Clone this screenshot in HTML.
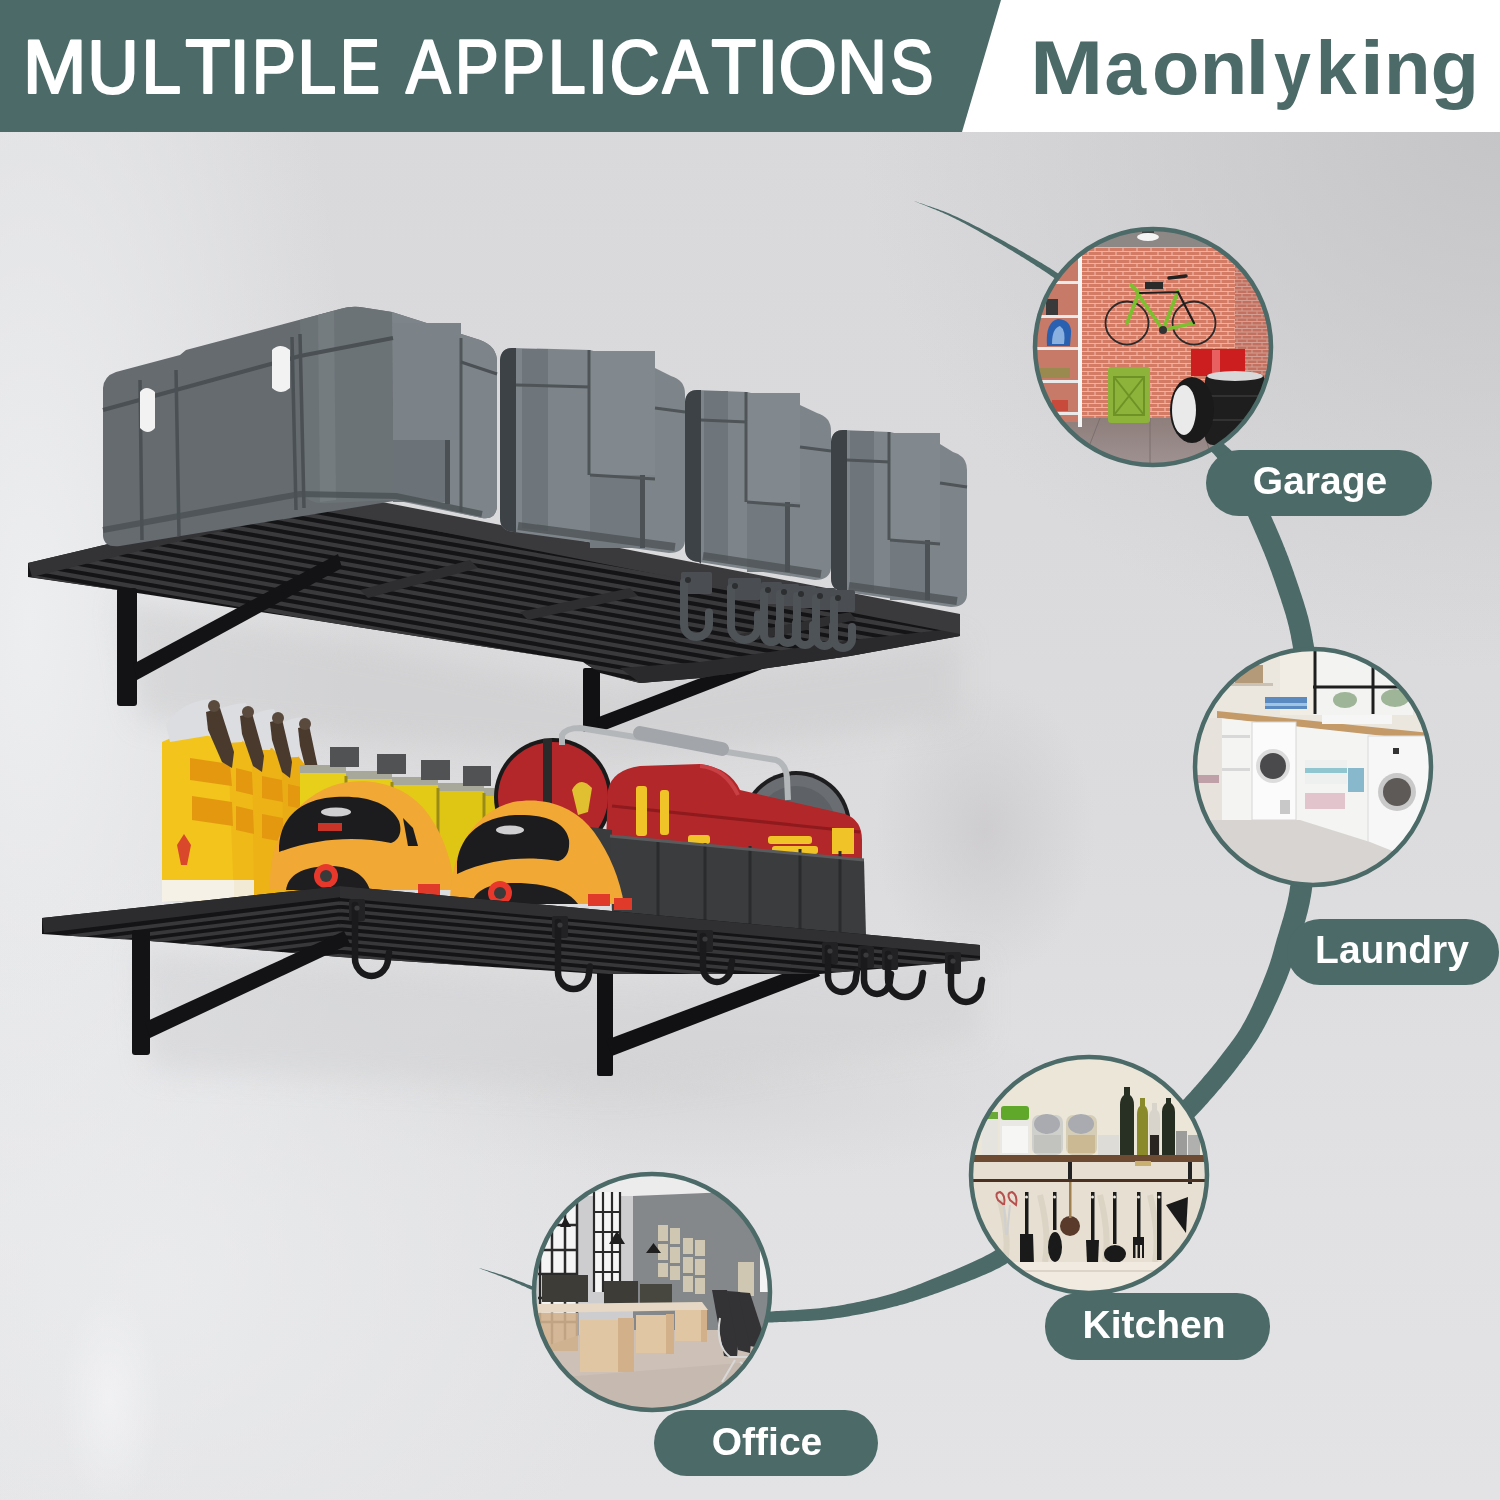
<!DOCTYPE html>
<html><head><meta charset="utf-8">
<style>
html,body{margin:0;padding:0;width:1500px;height:1500px;overflow:hidden;background:#dfe0e2;}
#bg{position:absolute;left:0;top:0;width:1500px;height:1500px;
background:
 radial-gradient(ellipse 50px 110px at 110px 1400px, rgba(243,243,245,0.8), rgba(243,243,245,0) 100%),
 radial-gradient(ellipse 480px 420px at 160px 1280px, rgba(234,235,237,0.9), rgba(234,235,237,0) 100%),
 radial-gradient(ellipse 110px 150px at 985px 830px, rgba(200,198,200,0.7), rgba(200,198,200,0) 100%),
 radial-gradient(ellipse 380px 90px at 700px 1090px, rgba(212,212,214,0.7), rgba(212,212,214,0) 100%),
 radial-gradient(ellipse 330px 1000px at 30px 620px, rgba(237,238,240,1), rgba(237,238,240,0) 100%),
 radial-gradient(ellipse 640px 540px at 1500px 130px, rgba(197,196,198,1), rgba(197,196,198,0) 100%),
 linear-gradient(180deg, #d9d9db 0%, #dadadc 35%, #dcdcde 55%, #e1e1e3 80%, #e3e3e5 100%);}

svg{position:absolute;left:0;top:0;}
text{font-family:"Liberation Sans",sans-serif;}
</style></head>
<body>
<div id="bg"></div>
<svg width="1500" height="1500" viewBox="0 0 1500 1500">
<defs>
 <clipPath id="cG"><circle cx="1153" cy="347" r="119"/></clipPath>
 <clipPath id="cL"><circle cx="1313" cy="767" r="119"/></clipPath>
 <clipPath id="cK"><circle cx="1089" cy="1175" r="119"/></clipPath>
 <clipPath id="cO"><circle cx="652" cy="1292" r="119"/></clipPath>
 <pattern id="brick" width="14" height="8" patternUnits="userSpaceOnUse">
 <rect width="14" height="8" fill="#d47b66"/>
 <path d="M0,3.5 H14 M0,7.5 H14 M3,0 V3.5 M10,4 V7.5" stroke="#eeb2a2" stroke-width="1.2"/>
</pattern>
<pattern id="brick2" width="10" height="7" patternUnits="userSpaceOnUse">
 <rect width="10" height="7" fill="#c2705f"/>
 <path d="M0,3 H10 M0,6.5 H10 M2,0 V3 M7,3.5 V6.5" stroke="#d5a093" stroke-width="1"/>
</pattern>
<linearGradient id="floorG" x1="0" y1="0" x2="0" y2="1">
 <stop offset="0" stop-color="#8e7e7c"/><stop offset="1" stop-color="#a09492"/>
</linearGradient>
<filter id="blur12" x="-20%" y="-50%" width="140%" height="200%"><feGaussianBlur stdDeviation="14"/></filter>
<clipPath id="uShelf"><polygon points="30,577 320,506 960,634 850,656 700,678 640,683 600,673 583,662 280,615 118,590"/></clipPath>
<clipPath id="lShelf"><polygon points="44,933 340,897 980,956 980,960 820,974 600,974 340,957 150,941 42,934"/></clipPath>

</defs>
<rect x="0" y="0" width="1500" height="132" fill="#ffffff"/>
<polygon points="0,0 1001,0 962,132 0,132" fill="#4b6a68"/>
<text transform="translate(28.00,0) scale(1.0197,1)" x="-5.08" y="92.9" font-size="75.29" font-weight="normal" fill="#ffffff" stroke="#ffffff" stroke-width="2.2" stroke-linejoin="round">M</text>
<text transform="translate(91.80,0) scale(0.9476,1)" x="-4.71" y="92.9" font-size="75.29" font-weight="normal" fill="#ffffff" stroke="#ffffff" stroke-width="2.2" stroke-linejoin="round">U</text>
<text transform="translate(146.00,0) scale(0.9549,1)" x="-5.08" y="92.9" font-size="75.29" font-weight="normal" fill="#ffffff" stroke="#ffffff" stroke-width="2.2" stroke-linejoin="round">L</text>
<text transform="translate(185.70,0) scale(0.9828,1)" x="-0.59" y="92.9" font-size="75.29" font-weight="normal" fill="#ffffff" stroke="#ffffff" stroke-width="2.2" stroke-linejoin="round">T</text>
<text transform="translate(235.20,0) scale(0.9760,1)" x="-5.85" y="92.9" font-size="75.29" font-weight="normal" fill="#ffffff" stroke="#ffffff" stroke-width="2.2" stroke-linejoin="round">I</text>
<text transform="translate(256.20,0) scale(0.8800,1)" x="-5.08" y="92.9" font-size="75.29" font-weight="normal" fill="#ffffff" stroke="#ffffff" stroke-width="2.2" stroke-linejoin="round">P</text>
<text transform="translate(302.00,0) scale(0.9323,1)" x="-5.08" y="92.9" font-size="75.29" font-weight="normal" fill="#ffffff" stroke="#ffffff" stroke-width="2.2" stroke-linejoin="round">L</text>
<text transform="translate(344.00,0) scale(0.7952,1)" x="-5.08" y="92.9" font-size="75.29" font-weight="normal" fill="#ffffff" stroke="#ffffff" stroke-width="2.2" stroke-linejoin="round">E</text>
<text transform="translate(405.20,0) scale(0.8883,1)" x="0.95" y="92.9" font-size="75.29" font-weight="normal" fill="#ffffff" stroke="#ffffff" stroke-width="2.2" stroke-linejoin="round">A</text>
<text transform="translate(459.20,0) scale(0.8777,1)" x="-5.08" y="92.9" font-size="75.29" font-weight="normal" fill="#ffffff" stroke="#ffffff" stroke-width="2.2" stroke-linejoin="round">P</text>
<text transform="translate(505.40,0) scale(0.8777,1)" x="-5.08" y="92.9" font-size="75.29" font-weight="normal" fill="#ffffff" stroke="#ffffff" stroke-width="2.2" stroke-linejoin="round">P</text>
<text transform="translate(552.30,0) scale(0.9097,1)" x="-5.08" y="92.9" font-size="75.29" font-weight="normal" fill="#ffffff" stroke="#ffffff" stroke-width="2.2" stroke-linejoin="round">L</text>
<text transform="translate(593.00,0) scale(1.0627,1)" x="-5.85" y="92.9" font-size="75.29" font-weight="normal" fill="#ffffff" stroke="#ffffff" stroke-width="2.2" stroke-linejoin="round">I</text>
<text transform="translate(611.90,0) scale(0.9242,1)" x="-2.72" y="92.9" font-size="75.29" font-weight="normal" fill="#ffffff" stroke="#ffffff" stroke-width="2.2" stroke-linejoin="round">C</text>
<text transform="translate(661.70,0) scale(0.8998,1)" x="0.95" y="92.9" font-size="75.29" font-weight="normal" fill="#ffffff" stroke="#ffffff" stroke-width="2.2" stroke-linejoin="round">A</text>
<text transform="translate(711.80,0) scale(0.9783,1)" x="-0.59" y="92.9" font-size="75.29" font-weight="normal" fill="#ffffff" stroke="#ffffff" stroke-width="2.2" stroke-linejoin="round">T</text>
<text transform="translate(763.00,0) scale(1.0410,1)" x="-5.85" y="92.9" font-size="75.29" font-weight="normal" fill="#ffffff" stroke="#ffffff" stroke-width="2.2" stroke-linejoin="round">I</text>
<text transform="translate(781.00,0) scale(0.9982,1)" x="-2.47" y="92.9" font-size="75.29" font-weight="normal" fill="#ffffff" stroke="#ffffff" stroke-width="2.2" stroke-linejoin="round">O</text>
<text transform="translate(842.00,0) scale(0.9151,1)" x="-5.08" y="92.9" font-size="75.29" font-weight="normal" fill="#ffffff" stroke="#ffffff" stroke-width="2.2" stroke-linejoin="round">N</text>
<text transform="translate(892.00,0) scale(0.8673,1)" x="-2.32" y="92.9" font-size="75.29" font-weight="normal" fill="#ffffff" stroke="#ffffff" stroke-width="2.2" stroke-linejoin="round">S</text>
<text transform="translate(1036.00,0) scale(1.1617,1)" x="-5.06" y="94" font-size="75.71" font-weight="bold" fill="#4b6a68">M</text>
<text transform="translate(1106.70,0) scale(0.9884,1)" x="-2.22" y="94" font-size="75.71" font-weight="bold" fill="#4b6a68">a</text>
<text transform="translate(1155.00,0) scale(1.0265,1)" x="-2.96" y="94" font-size="75.71" font-weight="bold" fill="#4b6a68">o</text>
<text transform="translate(1204.80,0) scale(1.0284,1)" x="-4.99" y="94" font-size="75.71" font-weight="bold" fill="#4b6a68">n</text>
<text transform="translate(1251.40,0) scale(1.1552,1)" x="-5.29" y="94" font-size="75.71" font-weight="bold" fill="#4b6a68">l</text>
<text transform="translate(1274.60,0) scale(0.8757,1)" x="-0.59" y="94" font-size="75.71" font-weight="bold" fill="#4b6a68">y</text>
<text transform="translate(1321.00,0) scale(0.9758,1)" x="-5.29" y="94" font-size="75.71" font-weight="bold" fill="#4b6a68">k</text>
<text transform="translate(1365.80,0) scale(1.1552,1)" x="-5.29" y="94" font-size="75.71" font-weight="bold" fill="#4b6a68">i</text>
<text transform="translate(1389.00,0) scale(1.0065,1)" x="-4.99" y="94" font-size="75.71" font-weight="bold" fill="#4b6a68">n</text>
<text transform="translate(1433.80,0) scale(1.0505,1)" x="-3.11" y="94" font-size="75.71" font-weight="bold" fill="#4b6a68">g</text>

<g id="product">
<!-- wall shadows -->
<g opacity="0.5">
 <path d="M120,600 L600,690 L960,640 L960,720 L620,760 L140,720 Z" fill="#c9c9cb" filter="url(#blur12)"/>
 <path d="M140,950 L620,985 L980,960 L980,1040 L620,1090 L150,1070 Z" fill="#cfcfd1" filter="url(#blur12)"/>
</g>

<!-- UPPER SHELF brackets (behind) -->
<g fill="#111113">
 <rect x="583" y="668" width="17" height="64" rx="2"/>
 <polygon points="596,718 800,640 806,652 600,732"/>
</g>

<!-- UPPER SHELF body -->
<polygon points="28,563 320,494 960,620 960,636 850,656 700,678 640,683 600,673 583,662 280,615 118,590 28,577" fill="#141416"/>
<g clip-path="url(#uShelf)" stroke="#3a3a3c" stroke-width="4.2" fill="none">
 <path d="M0,452.5 L1000,627.5 M0,461.0 L1000,636.0 M0,469.5 L1000,644.5 M0,478.0 L1000,653.0 M0,486.5 L1000,661.5 M0,495.0 L1000,670.0 M0,503.5 L1000,678.5 M0,512.0 L1000,687.0 M0,520.5 L1000,695.5 M0,529.0 L1000,704.0 M0,537.5 L1000,712.5 M0,546.0 L1000,721.0 M0,554.5 L1000,729.5 M0,563.0 L1000,738.0 M0,571.5 L1000,746.5 M0,580.0 L1000,755.0"/>
</g>
<g clip-path="url(#uShelf)" fill="#2e2e30">
 <polygon points="360,590 470,560 478,568 368,598"/>
 <polygon points="520,612 630,588 638,596 528,620"/>
 <polygon points="730,636 850,612 856,620 736,644"/>
</g>
<polygon points="620,668 700,662 852,640 960,628 960,636 850,656 700,678 640,683" fill="#2a2a2c"/>
<!-- front top frame -->
<polygon points="28,563 320,494 324,506 32,577" fill="#333335"/>

<!-- left bracket upper -->
<g fill="#131315">
 <rect x="117" y="588" width="20" height="118" rx="3"/>
 <polygon points="133,664 338,554 342,568 137,680"/>
</g>

<!-- BOXES -->
<!-- shelf top band under boxes -->
<polygon points="320,490 960,614 960,634 320,508" fill="#3a3a3c"/>
<!-- box 1 -->
<path d="M103,388 Q104,376 116,372 L180,355 L186,350 L340,309 Q350,306 360,307 L392,312 L480,340 Q497,346 497,362 L497,506 Q496,520 482,518 L400,500 L120,546 Q104,548 103,536 Z" fill="#656b6f"/>
<path d="M300,320 L340,309 Q350,306 360,307 L392,312 L394,500 L330,503 Q305,505 303,490 Z" fill="#6c7377"/>
<path d="M318,315 L334,311 L336,500 L320,502 Z" fill="#757c80"/>
<path d="M392,312 L480,340 Q497,346 497,362 L497,506 Q496,520 482,518 L394,500 Z" fill="#7e858a"/>
<rect x="393" y="323" width="68" height="117" fill="#7c8388"/>
<rect x="393" y="440" width="56" height="62" fill="#6c7378"/>
<rect x="445" y="440" width="5" height="64" fill="#4a5054"/>
<path d="M461,338 L461,512" stroke="#50565a" stroke-width="3"/>
<path d="M103,410 L300,356 L393,338" stroke="#4a5054" stroke-width="4" fill="none"/>
<path d="M461,362 L497,374" stroke="#4a5054" stroke-width="3"/>
<path d="M140,380 L142,540 M176,370 L179,536 M292,337 L296,510 M300,334 L304,508" stroke="#4a5054" stroke-width="3.5"/>
<path d="M103,530 L300,494 L396,496 L482,514" stroke="#4a5053" stroke-width="6" fill="none" opacity="0.8"/>
<path d="M140,392 Q146,384 155,392 L155,428 Q148,436 140,428 Z" fill="#f2f2f2"/>
<path d="M272,350 Q280,342 290,350 L290,388 Q281,396 272,388 Z" fill="#f2f2f2"/>
<!-- box 2 -->
<path d="M500,360 Q501,348 512,348 L590,350 L655,368 L671,376 Q685,380 685,394 L685,541 Q684,553 669,553 L514,532 Q500,531 500,518 Z" fill="#7e858a"/>
<path d="M500,360 Q501,348 512,348 L516,348 L516,534 L514,532 Q500,531 500,518 Z" fill="#3c4245"/>
<path d="M522,349 L548,349 L548,531 L522,528 Z" fill="#6f767b"/>
<rect x="590" y="351" width="65" height="124" fill="#82898e"/>
<rect x="590" y="475" width="53" height="73" fill="#737a7f"/>
<rect x="640" y="475" width="5" height="73" fill="#4b5155"/>
<path d="M589,350 L589,475" stroke="#4e5458" stroke-width="3"/>
<path d="M590,475 L655,479" stroke="#4e5458" stroke-width="3"/>
<path d="M516,385 L590,387" stroke="#4e5458" stroke-width="3"/>
<path d="M655,408 L685,412" stroke="#4e5458" stroke-width="3"/>
<path d="M518,526 L675,547" stroke="#4a5053" stroke-width="8" opacity="0.75"/>
<!-- box 3 -->
<path d="M685,402 Q686,390 697,390 L747,392 L800,405 L817,413 Q831,417 831,431 L831,568 Q830,580 815,580 L699,562 Q685,561 685,548 Z" fill="#7e858a"/>
<path d="M685,402 Q686,390 697,390 L701,390 L701,564 L699,562 Q685,561 685,548 Z" fill="#3c4245"/>
<path d="M704,391 L728,391 L728,561 L704,558 Z" fill="#6f767b"/>
<rect x="747" y="393" width="53" height="109" fill="#82898e"/>
<rect x="747" y="502" width="41" height="70" fill="#737a7f"/>
<rect x="785" y="502" width="5" height="70" fill="#4b5155"/>
<path d="M746,392 L746,502" stroke="#4e5458" stroke-width="3"/>
<path d="M747,502 L800,506" stroke="#4e5458" stroke-width="3"/>
<path d="M701,420 L747,422" stroke="#4e5458" stroke-width="3"/>
<path d="M800,447 L831,451" stroke="#4e5458" stroke-width="3"/>
<path d="M703,556 L821,574" stroke="#4a5053" stroke-width="8" opacity="0.75"/>
<!-- box 4 -->
<path d="M831,442 Q832,430 843,430 L890,432 L940,444 L953,452 Q967,456 967,470 L967,595 Q966,607 951,607 L845,592 Q831,591 831,578 Z" fill="#7e858a"/>
<path d="M831,442 Q832,430 843,430 L847,430 L847,594 L845,592 Q831,591 831,578 Z" fill="#3c4245"/>
<path d="M850,431 L874,431 L874,591 L850,588 Z" fill="#6f767b"/>
<rect x="890" y="433" width="50" height="107" fill="#82898e"/>
<rect x="890" y="540" width="38" height="60" fill="#737a7f"/>
<rect x="925" y="540" width="5" height="60" fill="#4b5155"/>
<path d="M889,432 L889,540" stroke="#4e5458" stroke-width="3"/>
<path d="M890,540 L940,544" stroke="#4e5458" stroke-width="3"/>
<path d="M847,460 L890,462" stroke="#4e5458" stroke-width="3"/>
<path d="M940,483 L967,487" stroke="#4e5458" stroke-width="3"/>
<path d="M849,586 L957,601" stroke="#4a5053" stroke-width="8" opacity="0.75"/>

<!-- upper hooks -->
<g fill="#4a4e52">
 <rect x="681" y="572" width="31" height="22" rx="2"/>
 <rect x="728" y="578" width="33" height="22" rx="2"/>
 <rect x="761" y="582" width="21" height="22" rx="2"/>
 <rect x="777" y="584" width="22" height="22" rx="2"/>
 <rect x="794" y="586" width="22" height="22" rx="2"/>
 <rect x="813" y="588" width="23" height="22" rx="2"/>
 <rect x="831" y="590" width="24" height="22" rx="2"/>
</g>
<g fill="none" stroke="#4e5357" stroke-width="8" stroke-linecap="round">
 <path d="M684,582 L684,624.5 A12.5,12.5 0 0 0 709,624.5 L709,612.5"/>
 <path d="M731,588 L731,626.5 A13.5,13.5 0 0 0 758,626.5 L758,614.5"/>
 <path d="M764,592 L764,634.5 A7.5,7.5 0 0 0 779,634.5 L779,622.5"/>
 <path d="M780,594 L780,635.0 A8.0,8.0 0 0 0 796,635.0 L796,623.0"/>
 <path d="M797,596 L797,637.0 A8.0,8.0 0 0 0 813,637.0 L813,625.0"/>
 <path d="M816,598 L816,637.5 A8.5,8.5 0 0 0 833,637.5 L833,625.5"/>
 <path d="M834,600 L834,639.0 A9.0,9.0 0 0 0 852,639.0 L852,627.0"/>
</g>
<g fill="#2c2e30">
 <circle cx="688" cy="580" r="3"/>
 <circle cx="735" cy="586" r="3"/>
 <circle cx="768" cy="590" r="3"/>
 <circle cx="784" cy="592" r="3"/>
 <circle cx="801" cy="594" r="3"/>
 <circle cx="820" cy="596" r="3"/>
 <circle cx="838" cy="598" r="3"/>
</g>

<!-- LOWER SHELF brackets -->
<g fill="#111113">
 <rect x="597" y="970" width="16" height="106" rx="2"/>
 <polygon points="606,1040 814,962 820,976 612,1056"/>
</g>

<!-- LOWER SHELF OBJECTS -->
<!-- spray bottles -->
<g>
 <path d="M276,762 Q286,756 298,756 L306,766 L308,896 L276,896 Z" fill="#eaac14"/>
 <path d="M246,754 Q258,748 272,748 L282,758 L284,898 L246,898 Z" fill="#ecb216"/>
 <path d="M212,746 Q225,740 242,740 L252,750 L254,900 L212,900 Z" fill="#efba18"/>
 <path d="M162,742 Q178,734 205,734 L228,745 L234,902 L162,902 Z" fill="#f2c41c"/>
 <g fill="#e39810">
  <path d="M190,758 L230,764 L232,786 L190,780 Z"/><path d="M192,796 L232,802 L233,826 L192,820 Z"/>
  <path d="M236,768 L252,772 L253,795 L236,791 Z"/><path d="M236,806 L253,810 L254,834 L236,830 Z"/>
  <path d="M262,776 L282,780 L283,802 L262,798 Z"/><path d="M262,814 L283,818 L284,842 L262,838 Z"/>
  <path d="M288,784 L306,788 L307,810 L288,806 Z"/><path d="M288,820 L307,824 L308,846 L288,842 Z"/>
 </g>
 <path d="M162,880 L234,880 L234,900 L162,902 Z" fill="#f5f1e6"/>
 <path d="M234,880 L254,880 L254,898 L234,898 Z" fill="#f3ead6"/>
 <path d="M177,845 L184,834 L191,845 L187,865 L181,865 Z" fill="#d9482a"/>
 <g fill="#dcdde0"><path d="M166,725 Q180,702 210,699 L220,712 L212,735 L170,742 Z"/><path d="M212,712 Q228,704 246,703 L252,718 L242,742 L214,744 Z"/><path d="M244,720 Q258,710 274,709 L280,724 L270,750 L248,750 Z"/><path d="M274,728 Q288,718 302,717 L307,732 L298,757 L278,758 Z"/></g>
 <g fill="#4a3a2e"><path d="M206,712 L220,708 L234,752 L232,768 L222,762 L208,730 Z"/><path d="M240,716 L252,713 L264,756 L262,772 L253,766 L242,734 Z"/><path d="M270,722 L282,719 L292,762 L290,778 L282,772 L272,740 Z"/><path d="M298,728 L309,725 L318,768 L316,784 L308,778 L300,746 Z"/></g>
 <g fill="#5a4a3e"><circle cx="214" cy="706" r="6"/><circle cx="248" cy="712" r="6"/><circle cx="278" cy="718" r="6"/><circle cx="305" cy="724" r="6"/></g>
</g>
<!-- oil cans -->
<g>
 <rect x="300" y="770" width="46" height="112" fill="#e8cf1a"/>
 <rect x="346" y="776" width="46" height="106" fill="#e6cd19"/>
 <rect x="392" y="782" width="46" height="100" fill="#e3ca17"/>
 <rect x="438" y="788" width="46" height="96" fill="#e0c614"/>
 <rect x="484" y="793" width="40" height="90" fill="#dcc213"/>
 <g fill="#a8a89a"><rect x="300" y="765" width="46" height="8"/><rect x="346" y="771" width="46" height="8"/><rect x="392" y="777" width="46" height="8"/><rect x="438" y="783" width="46" height="8"/><rect x="484" y="788" width="40" height="8"/></g>
 <g fill="#505254"><rect x="330" y="747" width="29" height="20"/><rect x="377" y="754" width="29" height="20"/><rect x="421" y="760" width="29" height="20"/><rect x="463" y="766" width="28" height="20"/></g>
 <path d="M346,776 V882 M392,782 V882 M438,788 V882 M484,793 V882" stroke="#9a8a18" stroke-width="3"/>
</g>
<!-- tool bag -->
<circle cx="796" cy="826" r="55" fill="#1e1e20"/>
<circle cx="796" cy="826" r="51" fill="#6a6e72"/>
<circle cx="796" cy="826" r="40" fill="#5e6266"/>
<circle cx="553" cy="797" r="59" fill="#1a1a1a"/>
<circle cx="553" cy="797" r="55" fill="#b3272a"/>
<rect x="543" y="739" width="9" height="90" fill="#2a2a2a"/>
<path d="M572,790 Q580,775 592,788 L588,812 L578,815 Z" fill="#e0c030"/>
<path d="M608,790 Q612,770 640,766 L700,764 Q730,768 740,790 L845,814 Q862,820 862,840 L862,862 L606,842 Z" fill="#b2272a"/>
<path d="M612,806 L860,832" stroke="#8e1a1d" stroke-width="3"/>
<path d="M700,766 Q725,768 738,795" stroke="#c84044" stroke-width="4" fill="none"/>
<path d="M562,745 L562,735 Q566,728 580,728 L776,760 Q786,764 787,778 L788,800" fill="none" stroke="#b4b7ba" stroke-width="6"/>
<path d="M640,733 L722,749" stroke="#a2a6aa" stroke-width="14" stroke-linecap="round"/>
<g fill="#f0c428"><rect x="636" y="786" width="11" height="50" rx="3"/><rect x="660" y="790" width="9" height="45" rx="3"/><rect x="768" y="836" width="44" height="8" rx="3"/><rect x="772" y="846" width="46" height="8" rx="3"/><rect x="832" y="828" width="22" height="26"/><rect x="688" y="835" width="22" height="9" rx="3"/></g>
<path d="M575,825 L612,830 L612,900 L580,895 Z" fill="#3a3b3d"/>
<path d="M610,836 L864,860 L866,936 L612,916 Z" fill="#3b3c3e"/>
<path d="M658,840 V922 M705,843 V925 M750,846 V928 M800,849 V931 M840,851 V934" stroke="#2a2b2d" stroke-width="3"/>
<path d="M610,836 L864,860" stroke="#5a5b5d" stroke-width="3"/>
<!-- helmets -->
<g>
 <path d="M270,890 C268,840 292,798 338,784 C372,776 405,786 425,810 C444,834 452,862 455,890 Z" fill="#f1a834"/>
 <path d="M279,846 C281,816 302,799 335,797 C366,795 390,803 399,821 C403,833 398,841 391,843 C356,836 318,838 279,852 Z" fill="#1c1c1e"/>
 <path d="M403,818 L413,828 L418,846 L408,846 Z" fill="#1c1c1e"/>
 <ellipse cx="336" cy="812" rx="15" ry="4.5" fill="#cfcfd1"/>
 <rect x="318" y="823" width="24" height="8" fill="#c83428"/>
 <path d="M286,890 C288,875 302,867 328,866 C350,866 364,873 370,890 Z" fill="#1e1e20"/>
 <circle cx="326" cy="876" r="12" fill="#e8382c"/><circle cx="326" cy="876" r="6" fill="#3a3a3a"/>
 <path d="M450,904 C450,850 474,812 513,802 C548,796 576,808 594,832 C610,854 620,880 624,904 Z" fill="#f1a834"/>
 <path d="M457,862 C461,834 482,817 515,815 C545,814 566,822 569,840 C570,852 566,859 558,861 C528,856 492,858 457,874 Z" fill="#1c1c1e"/>
 <ellipse cx="510" cy="830" rx="14" ry="4.5" fill="#cfcfd1"/>
 <path d="M472,904 C474,890 490,883 515,883 C545,883 568,890 578,904 Z" fill="#1e1e20"/>
 <circle cx="500" cy="893" r="12" fill="#e8382c"/><circle cx="500" cy="893" r="6" fill="#3a3a3a"/>
 <rect x="588" y="894" width="22" height="12" fill="#e03a2a"/>
 <rect x="614" y="898" width="18" height="12" fill="#e03a2a"/>
 <rect x="418" y="884" width="22" height="12" fill="#e03a2a"/>
</g>

<!-- LOWER SHELF body -->
<polygon points="42,918 340,886 980,945 980,960 820,974 600,974 340,957 150,941 42,934" fill="#141416"/>
<g clip-path="url(#lShelf)" stroke="#38383a" stroke-width="3.6" fill="none">
 <path d="M340,903.0 L1000,962.4 M340,903.0 L0,945.0 M340,910.5 L1000,969.9 M340,910.5 L0,952.5 M340,918.0 L1000,977.4 M340,918.0 L0,960.0 M340,925.5 L1000,984.9 M340,925.5 L0,967.5 M340,933.0 L1000,992.4 M340,933.0 L0,975.0 M340,940.5 L1000,999.9 M340,940.5 L0,982.5 M340,948.0 L1000,1007.4 M340,948.0 L0,990.0 M340,955.5 L1000,1014.9 M340,955.5 L0,997.5 M340,963.0 L1000,1022.4 M340,963.0 L0,1005.0"/>
</g>
<polygon points="42,918 340,886 342,897 44,933" fill="#2c2c2e"/>
<polygon points="340,886 980,945 980,956 340,898" fill="#303032"/>
<!-- lower left bracket -->
<g fill="#131315">
 <rect x="132" y="930" width="18" height="125" rx="3"/>
 <polygon points="145,1022 344,931 350,944 150,1038"/>
</g>
<!-- lower hooks -->
<g fill="#222224">
 <rect x="349" y="899" width="16" height="22" rx="2"/>
 <rect x="552" y="916" width="16" height="22" rx="2"/>
 <rect x="697" y="930" width="16" height="22" rx="2"/>
 <rect x="822" y="942" width="16" height="22" rx="2"/>
 <rect x="858" y="946" width="16" height="22" rx="2"/>
 <rect x="882" y="948" width="16" height="22" rx="2"/>
 <rect x="945" y="952" width="16" height="22" rx="2"/>
</g>
<g fill="none" stroke="#1a1a1c" stroke-width="6.5" stroke-linecap="round">
 <path d="M355,905 L355,958.5 A16.5,17.5 0 0 0 388,958.5 L389,952.5"/>
 <path d="M558,922 L558,972.5 A15.5,16.5 0 0 0 589,972.5 L590,966.5"/>
 <path d="M703,936 L703,967.0 A14.0,15.0 0 0 0 731,967.0 L732,961.0"/>
 <path d="M828,948 L828,977.0 A14.0,15.0 0 0 0 856,977.0 L857,971.0"/>
 <path d="M864,952 L864,980.0 A13.0,14.0 0 0 0 890,980.0 L891,974.0"/>
 <path d="M888,954 L888,979.0 A17.0,18.0 0 0 0 922,979.0 L923,973.0"/>
 <path d="M951,958 L951,986.0 A15.0,16.0 0 0 0 981,986.0 L982,980.0"/>
</g>
<g fill="#3a3a3c">
 <circle cx="357" cy="908" r="2.6"/>
 <circle cx="560" cy="925" r="2.6"/>
 <circle cx="705" cy="939" r="2.6"/>
 <circle cx="830" cy="951" r="2.6"/>
 <circle cx="866" cy="955" r="2.6"/>
 <circle cx="890" cy="957" r="2.6"/>
 <circle cx="953" cy="961" r="2.6"/>
</g>

</g>
<g id="curve" fill="#4b6a68">
<path d="M914.0,201.0 L915.8,201.7 L917.6,202.5 L919.3,203.2 L921.1,203.9 L922.9,204.6 L924.7,205.3 L926.4,206.0 L928.2,206.7 L930.0,207.5 L931.8,208.2 L933.5,208.9 L935.3,209.6 L937.1,210.4 L938.9,211.1 L940.6,211.9 L942.4,212.6 L944.2,213.4 L946.0,214.2 L947.8,215.1 L949.6,215.9 L951.4,216.8 L953.2,217.7 L955.0,218.5 L956.7,219.4 L958.5,220.3 L960.3,221.3 L962.1,222.2 L963.8,223.1 L965.6,224.1 L967.4,225.0 L969.2,226.0 L971.0,227.0 L972.9,228.0 L974.7,229.1 L976.6,230.1 L978.4,231.1 L980.3,232.2 L982.2,233.3 L984.2,234.4 L986.2,235.5 L988.2,236.7 L990.2,237.9 L992.4,239.1 L994.5,240.4 L996.7,241.7 L998.9,243.0 L1001.2,244.3 L1003.5,245.7 L1005.7,247.0 L1008.0,248.4 L1010.2,249.8 L1012.5,251.1 L1014.7,252.5 L1016.8,253.8 L1019.0,255.1 L1021.1,256.4 L1023.1,257.6 L1025.0,258.8 L1026.9,260.0 L1028.7,261.1 L1030.4,262.2 L1032.1,263.3 L1033.8,264.3 L1035.4,265.4 L1036.9,266.4 L1038.4,267.3 L1039.9,268.3 L1041.3,269.2 L1042.8,270.2 L1044.1,271.1 L1045.5,272.0 L1046.8,272.8 L1048.1,273.7 L1049.3,274.6 L1050.5,275.4 L1051.7,276.2 L1052.9,277.1 L1054.1,277.9 L1055.2,278.7 L1056.3,279.5 L1057.4,280.3 L1058.5,281.1 L1059.5,281.8 L1060.5,282.6 L1061.4,283.3 L1062.3,284.0 L1063.1,284.7 L1064.0,285.4 L1064.8,286.0 L1065.6,286.7 L1066.4,287.4 L1067.1,288.0 L1067.9,288.7 L1068.7,289.3 L1069.5,290.0 L1070.3,290.7 L1071.1,291.4 L1072.0,292.1 L1072.9,292.8 L1077.1,287.2 L1076.2,286.6 L1075.4,285.9 L1074.6,285.3 L1073.7,284.7 L1072.9,284.1 L1072.1,283.5 L1071.3,282.8 L1070.5,282.2 L1069.6,281.6 L1068.8,280.9 L1067.9,280.3 L1067.0,279.6 L1066.1,279.0 L1065.1,278.3 L1064.1,277.6 L1063.1,276.8 L1062.0,276.1 L1060.9,275.3 L1059.7,274.5 L1058.5,273.8 L1057.4,273.0 L1056.2,272.2 L1055.0,271.4 L1053.7,270.6 L1052.5,269.8 L1051.2,269.0 L1049.9,268.1 L1048.5,267.3 L1047.1,266.4 L1045.7,265.5 L1044.3,264.7 L1042.8,263.7 L1041.3,262.8 L1039.7,261.9 L1038.1,260.9 L1036.5,259.9 L1034.8,258.9 L1033.1,257.9 L1031.3,256.9 L1029.5,255.8 L1027.5,254.7 L1025.5,253.5 L1023.5,252.3 L1021.4,251.1 L1019.2,249.9 L1017.0,248.6 L1014.7,247.3 L1012.4,246.0 L1010.1,244.7 L1007.8,243.4 L1005.5,242.1 L1003.2,240.8 L1000.9,239.6 L998.6,238.3 L996.4,237.1 L994.2,235.9 L992.0,234.7 L989.9,233.6 L987.8,232.5 L985.8,231.4 L983.9,230.4 L981.9,229.3 L980.0,228.3 L978.0,227.3 L976.2,226.4 L974.3,225.4 L972.4,224.4 L970.5,223.5 L968.7,222.6 L966.9,221.7 L965.0,220.8 L963.2,219.9 L961.4,219.0 L959.6,218.2 L957.7,217.3 L955.9,216.5 L954.1,215.7 L952.3,214.9 L950.4,214.1 L948.6,213.3 L946.7,212.6 L944.9,211.8 L943.0,211.1 L941.2,210.4 L939.4,209.8 L937.6,209.1 L935.7,208.5 L933.9,207.8 L932.1,207.2 L930.3,206.6 L928.5,206.0 L926.7,205.4 L924.9,204.8 L923.1,204.1 L921.3,203.5 L919.4,202.9 L917.6,202.3 L915.8,201.6 L914.0,201.0 Z"/>
<path d="M1195.5,432.0 L1196.2,432.8 L1196.9,433.7 L1197.6,434.6 L1198.3,435.5 L1199.0,436.3 L1199.7,437.2 L1200.4,438.1 L1201.1,439.0 L1201.8,439.9 L1202.5,440.8 L1203.2,441.7 L1203.9,442.5 L1204.6,443.4 L1205.3,444.3 L1206.1,445.2 L1206.8,446.2 L1207.6,447.1 L1208.3,448.0 L1209.1,448.9 L1209.9,449.8 L1210.7,450.8 L1211.6,451.7 L1212.4,452.7 L1213.3,453.6 L1214.2,454.6 L1215.0,455.5 L1215.9,456.5 L1216.8,457.4 L1217.7,458.4 L1218.5,459.3 L1219.4,460.2 L1220.3,461.2 L1221.2,462.1 L1222.1,463.0 L1222.9,464.0 L1223.8,464.9 L1224.6,465.8 L1225.5,466.7 L1226.4,467.7 L1237.6,456.3 L1236.7,455.5 L1235.8,454.6 L1234.8,453.7 L1233.8,452.9 L1232.9,452.0 L1231.9,451.1 L1231.0,450.3 L1230.1,449.4 L1229.1,448.6 L1228.2,447.7 L1227.2,446.9 L1226.3,446.0 L1225.4,445.2 L1224.5,444.4 L1223.6,443.5 L1222.7,442.7 L1221.8,441.9 L1221.0,441.0 L1220.1,440.2 L1219.3,439.4 L1218.5,438.6 L1217.7,437.8 L1216.9,437.0 L1216.1,436.3 L1215.4,435.5 L1214.6,434.7 L1213.8,433.9 L1213.1,433.0 L1212.3,432.2 L1211.5,431.4 L1210.7,430.6 L1210.0,429.8 L1209.2,429.0 L1208.4,428.2 L1207.7,427.3 L1206.9,426.5 L1206.1,425.7 L1205.3,424.9 L1204.5,424.0 Z"/>
<path d="M1242.5,504.5 L1242.9,505.3 L1243.3,506.2 L1243.7,506.9 L1244.0,507.7 L1244.4,508.4 L1244.7,509.1 L1245.1,509.8 L1245.4,510.5 L1245.8,511.2 L1246.1,511.9 L1246.5,512.7 L1246.8,513.4 L1247.2,514.2 L1247.6,515.0 L1248.0,515.9 L1248.4,516.8 L1248.9,517.8 L1249.3,518.9 L1249.9,520.0 L1250.4,521.3 L1251.0,522.6 L1251.6,524.0 L1252.3,525.5 L1253.0,527.1 L1253.7,528.8 L1254.5,530.5 L1255.2,532.2 L1256.0,534.0 L1256.8,535.8 L1257.6,537.7 L1258.4,539.5 L1259.2,541.4 L1260.0,543.3 L1260.8,545.2 L1261.6,547.0 L1262.4,548.9 L1263.1,550.7 L1263.9,552.5 L1264.6,554.2 L1265.2,555.9 L1265.9,557.5 L1266.5,559.2 L1267.2,560.8 L1267.8,562.4 L1268.4,564.1 L1269.0,565.7 L1269.6,567.3 L1270.2,568.9 L1270.8,570.5 L1271.4,572.1 L1272.0,573.7 L1272.5,575.3 L1273.1,576.9 L1273.7,578.5 L1274.2,580.1 L1274.8,581.7 L1275.4,583.4 L1275.9,585.0 L1276.5,586.7 L1277.1,588.4 L1277.6,590.1 L1278.2,591.8 L1278.8,593.5 L1279.4,595.3 L1280.0,597.0 L1280.6,598.8 L1281.2,600.6 L1281.7,602.4 L1282.3,604.1 L1282.9,605.9 L1283.4,607.6 L1284.0,609.4 L1284.5,611.1 L1285.1,612.9 L1285.6,614.6 L1286.1,616.2 L1286.5,617.9 L1287.0,619.5 L1287.4,621.1 L1287.8,622.7 L1288.2,624.2 L1288.6,625.7 L1289.0,627.3 L1289.3,628.9 L1289.7,630.4 L1290.0,632.0 L1290.3,633.6 L1290.7,635.1 L1291.0,636.7 L1291.2,638.2 L1291.5,639.7 L1291.8,641.2 L1292.1,642.6 L1292.3,644.1 L1292.6,645.5 L1292.8,646.8 L1293.0,648.2 L1293.2,649.4 L1293.5,650.7 L1293.7,651.8 L1293.9,652.9 L1294.0,653.9 L1294.2,654.8 L1294.3,655.7 L1294.4,656.5 L1294.5,657.3 L1294.6,658.0 L1294.7,658.7 L1294.8,659.3 L1294.9,660.0 L1294.9,660.6 L1295.0,661.2 L1295.1,661.9 L1295.1,662.6 L1295.2,663.3 L1295.3,664.0 L1295.4,664.8 L1295.5,665.6 L1295.6,666.4 L1316.4,663.6 L1316.3,662.9 L1316.2,662.2 L1316.2,661.6 L1316.1,660.9 L1316.0,660.3 L1315.9,659.7 L1315.9,659.0 L1315.8,658.3 L1315.7,657.6 L1315.6,656.9 L1315.5,656.1 L1315.4,655.3 L1315.3,654.4 L1315.2,653.5 L1315.1,652.6 L1314.9,651.6 L1314.7,650.5 L1314.5,649.4 L1314.3,648.2 L1314.1,647.0 L1313.9,645.8 L1313.7,644.6 L1313.5,643.2 L1313.2,641.9 L1313.0,640.4 L1312.7,639.0 L1312.5,637.5 L1312.2,635.9 L1311.9,634.3 L1311.6,632.7 L1311.3,631.0 L1310.9,629.4 L1310.6,627.7 L1310.2,626.0 L1309.8,624.3 L1309.4,622.5 L1309.0,620.8 L1308.6,619.1 L1308.2,617.3 L1307.7,615.6 L1307.2,613.9 L1306.7,612.1 L1306.2,610.3 L1305.7,608.6 L1305.1,606.8 L1304.6,604.9 L1304.0,603.1 L1303.5,601.3 L1302.9,599.5 L1302.3,597.7 L1301.7,595.8 L1301.1,594.0 L1300.5,592.2 L1299.9,590.4 L1299.3,588.6 L1298.7,586.8 L1298.1,585.1 L1297.5,583.3 L1296.9,581.6 L1296.4,579.9 L1295.8,578.2 L1295.2,576.5 L1294.6,574.9 L1294.1,573.2 L1293.5,571.5 L1292.9,569.9 L1292.3,568.2 L1291.7,566.6 L1291.1,564.9 L1290.5,563.3 L1289.9,561.6 L1289.3,560.0 L1288.7,558.3 L1288.1,556.6 L1287.4,554.9 L1286.8,553.3 L1286.1,551.6 L1285.4,549.9 L1284.8,548.1 L1284.0,546.4 L1283.3,544.5 L1282.6,542.7 L1281.8,540.8 L1281.0,538.9 L1280.2,537.0 L1279.4,535.1 L1278.5,533.1 L1277.7,531.2 L1276.9,529.3 L1276.1,527.4 L1275.3,525.6 L1274.5,523.8 L1273.7,522.0 L1272.9,520.3 L1272.2,518.6 L1271.5,517.0 L1270.8,515.5 L1270.2,514.1 L1269.6,512.7 L1269.0,511.5 L1268.5,510.3 L1268.0,509.1 L1267.5,508.1 L1267.0,507.1 L1266.6,506.1 L1266.2,505.2 L1265.8,504.4 L1265.4,503.6 L1265.0,502.8 L1264.7,502.1 L1264.3,501.3 L1264.0,500.6 L1263.6,499.9 L1263.3,499.2 L1262.9,498.5 L1262.6,497.8 L1262.2,497.1 L1261.9,496.3 L1261.5,495.5 Z"/>
<path d="M1292.1,873.2 L1291.9,874.8 L1291.7,876.3 L1291.4,877.8 L1291.2,879.3 L1291.0,880.8 L1290.8,882.3 L1290.6,883.7 L1290.4,885.2 L1290.1,886.6 L1289.9,888.1 L1289.7,889.5 L1289.5,890.9 L1289.3,892.3 L1289.0,893.8 L1288.8,895.2 L1288.5,896.6 L1288.2,898.1 L1287.9,899.6 L1287.6,901.0 L1287.3,902.5 L1286.9,904.1 L1286.5,905.6 L1286.1,907.2 L1285.7,908.8 L1285.3,910.5 L1284.8,912.1 L1284.3,913.8 L1283.9,915.5 L1283.4,917.2 L1282.9,919.0 L1282.3,920.7 L1281.8,922.5 L1281.3,924.2 L1280.7,926.0 L1280.2,927.8 L1279.7,929.6 L1279.1,931.4 L1278.6,933.2 L1278.0,935.0 L1277.5,936.8 L1276.9,938.6 L1276.4,940.4 L1275.9,942.2 L1275.4,944.0 L1274.9,945.8 L1274.4,947.5 L1274.0,949.2 L1273.5,951.0 L1273.0,952.7 L1272.5,954.4 L1272.0,956.2 L1271.5,957.9 L1270.9,959.7 L1270.4,961.5 L1269.8,963.3 L1269.1,965.2 L1268.5,967.1 L1267.8,969.0 L1267.0,971.0 L1266.3,973.1 L1265.4,975.3 L1264.5,977.6 L1263.5,979.9 L1262.6,982.4 L1261.5,984.9 L1260.5,987.4 L1259.4,990.0 L1258.3,992.6 L1257.2,995.2 L1256.0,997.9 L1254.8,1000.5 L1253.7,1003.1 L1252.5,1005.7 L1251.3,1008.2 L1250.1,1010.7 L1248.9,1013.2 L1247.7,1015.5 L1246.6,1017.8 L1245.4,1020.0 L1244.3,1022.1 L1243.1,1024.1 L1242.0,1026.1 L1240.9,1028.0 L1239.7,1029.9 L1238.5,1031.7 L1237.4,1033.5 L1236.2,1035.3 L1235.0,1037.0 L1233.8,1038.7 L1232.5,1040.4 L1231.3,1042.1 L1230.1,1043.8 L1228.8,1045.4 L1227.6,1047.1 L1226.3,1048.7 L1225.1,1050.3 L1223.8,1052.0 L1222.6,1053.6 L1221.3,1055.3 L1220.0,1056.9 L1218.8,1058.5 L1217.6,1060.1 L1216.4,1061.7 L1215.2,1063.2 L1213.9,1064.8 L1212.7,1066.3 L1211.5,1067.8 L1210.2,1069.3 L1209.0,1070.8 L1207.7,1072.2 L1206.5,1073.7 L1205.3,1075.1 L1204.0,1076.6 L1202.8,1078.0 L1201.6,1079.4 L1200.3,1080.9 L1199.1,1082.3 L1197.9,1083.7 L1196.7,1085.0 L1195.5,1086.4 L1194.2,1087.8 L1193.0,1089.2 L1191.8,1090.5 L1190.6,1091.9 L1189.4,1093.2 L1188.2,1094.5 L1187.0,1095.8 L1185.8,1097.1 L1184.7,1098.4 L1183.5,1099.6 L1182.3,1100.9 L1181.1,1102.2 L1179.9,1103.4 L1178.7,1104.7 L1177.5,1106.0 L1176.3,1107.3 L1175.1,1108.6 L1173.9,1109.9 L1172.7,1111.2 L1187.3,1124.8 L1188.5,1123.5 L1189.7,1122.2 L1190.9,1120.9 L1192.1,1119.7 L1193.3,1118.4 L1194.5,1117.1 L1195.7,1115.8 L1196.9,1114.6 L1198.1,1113.3 L1199.3,1112.0 L1200.5,1110.7 L1201.7,1109.4 L1203.0,1108.0 L1204.2,1106.7 L1205.4,1105.3 L1206.7,1103.9 L1208.0,1102.5 L1209.2,1101.0 L1210.5,1099.6 L1211.7,1098.2 L1213.0,1096.8 L1214.2,1095.4 L1215.4,1094.0 L1216.7,1092.5 L1217.9,1091.1 L1219.2,1089.6 L1220.5,1088.2 L1221.7,1086.7 L1223.0,1085.1 L1224.3,1083.6 L1225.6,1082.1 L1226.9,1080.5 L1228.2,1078.9 L1229.5,1077.3 L1230.8,1075.7 L1232.1,1074.1 L1233.4,1072.4 L1234.7,1070.7 L1236.0,1069.1 L1237.2,1067.4 L1238.5,1065.8 L1239.7,1064.1 L1241.0,1062.5 L1242.2,1060.8 L1243.5,1059.1 L1244.8,1057.4 L1246.1,1055.6 L1247.4,1053.9 L1248.7,1052.1 L1250.0,1050.2 L1251.3,1048.4 L1252.6,1046.5 L1253.9,1044.5 L1255.3,1042.5 L1256.6,1040.5 L1257.9,1038.4 L1259.2,1036.3 L1260.4,1034.1 L1261.7,1031.9 L1263.0,1029.6 L1264.3,1027.2 L1265.6,1024.7 L1266.9,1022.2 L1268.2,1019.6 L1269.5,1017.0 L1270.8,1014.4 L1272.1,1011.7 L1273.4,1009.0 L1274.6,1006.3 L1275.9,1003.6 L1277.1,1000.9 L1278.3,998.2 L1279.5,995.6 L1280.6,993.0 L1281.7,990.4 L1282.8,987.9 L1283.8,985.5 L1284.8,983.2 L1285.7,980.9 L1286.7,978.7 L1287.5,976.5 L1288.3,974.4 L1289.1,972.3 L1289.9,970.3 L1290.6,968.3 L1291.3,966.3 L1291.9,964.4 L1292.5,962.6 L1293.1,960.7 L1293.7,958.9 L1294.3,957.1 L1294.8,955.3 L1295.3,953.6 L1295.9,951.8 L1296.4,950.1 L1296.9,948.4 L1297.4,946.7 L1298.0,944.9 L1298.5,943.2 L1299.1,941.4 L1299.6,939.6 L1300.2,937.8 L1300.8,936.0 L1301.3,934.2 L1301.9,932.4 L1302.4,930.6 L1303.0,928.8 L1303.5,927.0 L1304.0,925.2 L1304.5,923.4 L1305.1,921.6 L1305.6,919.8 L1306.1,918.0 L1306.5,916.2 L1307.0,914.4 L1307.5,912.7 L1307.9,910.9 L1308.3,909.2 L1308.7,907.5 L1309.1,905.7 L1309.5,904.0 L1309.8,902.4 L1310.1,900.7 L1310.4,899.1 L1310.7,897.5 L1311.0,895.9 L1311.2,894.4 L1311.5,892.8 L1311.7,891.3 L1311.9,889.8 L1312.1,888.3 L1312.3,886.9 L1312.5,885.4 L1312.8,884.0 L1313.0,882.5 L1313.2,881.1 L1313.4,879.7 L1313.6,878.2 L1313.9,876.8 Z"/>
<path d="M1014.6,1234.8 L1013.3,1235.8 L1012.0,1236.9 L1010.7,1237.9 L1009.5,1238.9 L1008.4,1239.9 L1007.3,1240.8 L1006.3,1241.8 L1005.2,1242.7 L1004.2,1243.6 L1003.2,1244.5 L1002.1,1245.3 L1001.1,1246.2 L1000.0,1247.1 L998.8,1247.9 L997.6,1248.8 L996.3,1249.7 L994.9,1250.6 L993.4,1251.5 L991.8,1252.5 L990.0,1253.5 L988.1,1254.5 L986.0,1255.6 L983.8,1256.7 L981.4,1257.9 L979.0,1259.1 L976.4,1260.3 L973.7,1261.5 L971.0,1262.7 L968.2,1264.0 L965.4,1265.2 L962.5,1266.5 L959.7,1267.7 L956.8,1268.9 L953.9,1270.2 L951.0,1271.4 L948.2,1272.6 L945.4,1273.7 L942.6,1274.8 L939.9,1275.9 L937.3,1277.0 L934.8,1278.0 L932.2,1279.1 L929.8,1280.1 L927.3,1281.0 L924.9,1282.0 L922.5,1283.0 L920.1,1283.9 L917.8,1284.8 L915.4,1285.7 L913.1,1286.6 L910.7,1287.5 L908.3,1288.3 L906.0,1289.2 L903.6,1290.0 L901.1,1290.8 L898.7,1291.6 L896.1,1292.4 L893.6,1293.2 L891.0,1294.0 L888.3,1294.7 L885.6,1295.5 L882.8,1296.2 L880.0,1296.9 L877.2,1297.7 L874.3,1298.4 L871.3,1299.1 L868.4,1299.7 L865.4,1300.4 L862.4,1301.1 L859.4,1301.7 L856.4,1302.3 L853.3,1302.9 L850.3,1303.5 L847.2,1304.1 L844.2,1304.7 L841.2,1305.2 L838.2,1305.7 L835.2,1306.2 L832.2,1306.6 L829.2,1307.1 L826.2,1307.5 L823.2,1307.8 L820.0,1308.2 L816.8,1308.5 L813.5,1308.8 L810.2,1309.1 L806.8,1309.3 L803.5,1309.6 L800.2,1309.8 L796.9,1310.0 L793.7,1310.2 L790.5,1310.3 L787.4,1310.5 L784.4,1310.7 L781.6,1310.8 L778.9,1311.0 L776.3,1311.1 L773.9,1311.2 L771.7,1311.4 L769.6,1311.5 L767.8,1311.6 L766.2,1311.8 L764.7,1311.9 L763.5,1312.0 L762.5,1312.0 L761.6,1312.1 L760.8,1312.1 L760.1,1312.2 L759.6,1312.2 L759.1,1312.2 L758.6,1312.3 L758.2,1312.3 L757.8,1312.3 L757.4,1312.3 L757.0,1312.4 L756.5,1312.4 L756.0,1312.4 L755.4,1312.5 L754.6,1312.5 L755.4,1323.5 L756.1,1323.4 L756.7,1323.4 L757.3,1323.4 L757.7,1323.3 L758.2,1323.3 L758.6,1323.3 L759.0,1323.2 L759.4,1323.2 L759.8,1323.2 L760.3,1323.1 L760.9,1323.1 L761.5,1323.0 L762.3,1323.0 L763.2,1322.9 L764.3,1322.9 L765.5,1322.8 L766.9,1322.7 L768.5,1322.6 L770.4,1322.5 L772.3,1322.4 L774.5,1322.3 L776.8,1322.2 L779.4,1322.1 L782.1,1322.0 L784.9,1321.9 L787.9,1321.8 L791.0,1321.7 L794.2,1321.5 L797.5,1321.4 L800.8,1321.2 L804.2,1321.1 L807.6,1320.9 L811.0,1320.7 L814.4,1320.5 L817.8,1320.2 L821.1,1320.0 L824.4,1319.7 L827.7,1319.3 L830.8,1318.9 L833.9,1318.6 L836.9,1318.1 L840.0,1317.7 L843.1,1317.2 L846.3,1316.7 L849.4,1316.2 L852.5,1315.6 L855.6,1315.1 L858.7,1314.5 L861.9,1313.9 L865.0,1313.3 L868.0,1312.7 L871.1,1312.0 L874.1,1311.4 L877.1,1310.7 L880.1,1310.0 L883.1,1309.4 L886.0,1308.7 L888.8,1308.0 L891.7,1307.3 L894.4,1306.6 L897.2,1305.9 L899.9,1305.1 L902.5,1304.4 L905.1,1303.7 L907.7,1302.9 L910.2,1302.1 L912.7,1301.4 L915.2,1300.6 L917.7,1299.8 L920.1,1299.0 L922.6,1298.1 L925.1,1297.3 L927.5,1296.4 L930.0,1295.6 L932.5,1294.7 L935.0,1293.8 L937.5,1292.9 L940.1,1291.9 L942.7,1291.0 L945.4,1290.0 L948.1,1289.0 L950.9,1288.0 L953.8,1286.9 L956.7,1285.8 L959.7,1284.7 L962.7,1283.5 L965.7,1282.4 L968.6,1281.2 L971.6,1280.0 L974.5,1278.9 L977.4,1277.7 L980.3,1276.5 L983.1,1275.3 L985.8,1274.2 L988.4,1273.0 L991.0,1271.9 L993.4,1270.7 L995.7,1269.6 L998.0,1268.5 L1000.1,1267.4 L1002.0,1266.3 L1003.9,1265.3 L1005.7,1264.2 L1007.3,1263.1 L1008.9,1262.1 L1010.4,1261.1 L1011.7,1260.0 L1013.1,1259.0 L1014.3,1258.0 L1015.5,1257.1 L1016.7,1256.1 L1017.8,1255.2 L1018.8,1254.3 L1019.9,1253.4 L1021.0,1252.6 L1022.0,1251.7 L1023.1,1250.9 L1024.2,1250.1 L1025.4,1249.2 Z"/>
<path d="M476.0,1267.0 L477.4,1267.5 L478.9,1268.1 L480.3,1268.6 L481.8,1269.2 L483.2,1269.7 L484.7,1270.3 L486.1,1270.8 L487.6,1271.3 L489.0,1271.9 L490.5,1272.4 L491.9,1273.0 L493.3,1273.5 L494.8,1274.1 L496.2,1274.6 L497.6,1275.2 L499.1,1275.7 L500.5,1276.3 L501.9,1276.8 L503.3,1277.4 L504.6,1277.9 L506.0,1278.5 L507.5,1279.1 L508.9,1279.7 L510.3,1280.3 L511.8,1280.9 L513.2,1281.6 L514.7,1282.2 L516.1,1282.9 L517.5,1283.5 L519.0,1284.1 L520.4,1284.8 L521.7,1285.4 L523.1,1286.0 L524.4,1286.6 L525.7,1287.1 L526.9,1287.7 L528.1,1288.2 L529.2,1288.7 L530.3,1289.2 L531.3,1289.6 L532.4,1290.1 L533.3,1290.5 L534.2,1290.8 L535.0,1291.2 L535.8,1291.5 L536.5,1291.8 L537.1,1292.0 L537.8,1292.3 L538.4,1292.5 L539.0,1292.8 L539.6,1293.0 L540.1,1293.2 L540.7,1293.4 L541.3,1293.7 L541.8,1293.9 L542.4,1294.1 L543.0,1294.4 L543.6,1294.6 L544.3,1294.9 L545.7,1291.1 L545.0,1290.9 L544.4,1290.7 L543.8,1290.4 L543.2,1290.2 L542.6,1290.0 L542.1,1289.8 L541.5,1289.6 L540.9,1289.4 L540.3,1289.2 L539.7,1289.0 L539.1,1288.8 L538.5,1288.5 L537.8,1288.3 L537.1,1288.0 L536.3,1287.7 L535.5,1287.4 L534.6,1287.1 L533.7,1286.8 L532.7,1286.4 L531.6,1286.0 L530.5,1285.6 L529.4,1285.1 L528.2,1284.7 L526.9,1284.2 L525.6,1283.7 L524.3,1283.1 L522.9,1282.6 L521.5,1282.1 L520.0,1281.5 L518.6,1280.9 L517.1,1280.4 L515.6,1279.8 L514.2,1279.2 L512.7,1278.7 L511.2,1278.1 L509.7,1277.6 L508.2,1277.1 L506.8,1276.6 L505.4,1276.1 L503.9,1275.6 L502.5,1275.1 L501.0,1274.6 L499.6,1274.2 L498.1,1273.7 L496.7,1273.2 L495.2,1272.8 L493.7,1272.3 L492.3,1271.9 L490.8,1271.4 L489.3,1271.0 L487.8,1270.6 L486.3,1270.1 L484.9,1269.7 L483.4,1269.2 L481.9,1268.8 L480.4,1268.3 L478.9,1267.9 L477.5,1267.5 L476.0,1267.0 Z"/>
</g>
<g id="circles">
<!-- GARAGE -->
<g clip-path="url(#cG)">
 <rect x="1030" y="225" width="250" height="250" fill="url(#brick)"/>
 <rect x="1030" y="225" width="250" height="22" fill="#8d8886"/>
 <ellipse cx="1148" cy="237" rx="11" ry="4" fill="#f4f4f4"/>
 <rect x="1142" y="229" width="12" height="4" fill="#444"/>
 <polygon points="1235,247 1280,230 1280,440 1235,420" fill="url(#brick2)"/>
 <polygon points="1030,418 1280,418 1280,470 1030,470" fill="url(#floorG)"/>
 <path d="M1100,418 L1080,470 M1150,418 L1150,470 M1200,418 L1215,470" stroke="#7c6f6d" stroke-width="1"/>
 <!-- shelving -->
 <rect x="1030" y="247" width="52" height="175" fill="#c77a68"/>
 <g fill="#e9e9e9"><rect x="1030" y="281" width="52" height="3"/><rect x="1030" y="315" width="52" height="3"/><rect x="1030" y="347" width="52" height="3"/><rect x="1030" y="380" width="52" height="3"/><rect x="1030" y="412" width="52" height="3"/></g>
 <rect x="1078" y="255" width="4" height="172" fill="#f5f5f5"/>
 <rect x="1046" y="299" width="12" height="16" fill="#3a3a3a"/>
 <path d="M1047,346 Q1045,322 1058,319 Q1072,320 1071,334 L1070,346 Z" fill="#2a60b0"/>
 <path d="M1052,344 Q1052,328 1060,326 Q1066,330 1064,344 Z" fill="#8ab0e0"/>
 <rect x="1036" y="368" width="34" height="10" fill="#9a8a50"/>
 <rect x="1052" y="400" width="16" height="11" fill="#c84a3a"/>
 <!-- bike -->
 <g fill="none" stroke="#2a2a2a" stroke-width="1.8">
  <circle cx="1127" cy="323" r="21.5"/><circle cx="1194" cy="323" r="21.5"/>
 </g>
 <g fill="none" stroke-linecap="round">
  <path d="M1138,295 L1127,323 M1140,297 L1163,330 M1178,291 L1163,330 M1163,330 L1194,323 M1131,285 L1140,294" stroke="#7cc030" stroke-width="3.6"/>
  <path d="M1140,293 L1178,292 M1178,292 L1194,323" stroke="#1e1e1e" stroke-width="2.2"/>
  <path d="M1169,278 L1186,276" stroke="#222" stroke-width="3.5"/>
 </g>
 <rect x="1145" y="282" width="18" height="7" fill="#2a2a2a"/>
 <circle cx="1163" cy="330" r="4" fill="#333"/>
 <!-- jerry can -->
 <rect x="1108" y="367" width="42" height="56" rx="3" fill="#8db33a"/>
 <path d="M1114,377 L1144,377 L1144,415 L1114,415 Z M1114,377 L1144,415 M1144,377 L1114,415" fill="none" stroke="#6f9226" stroke-width="2"/>
 <!-- drum -->
 <rect x="1191" y="349" width="54" height="27" fill="#cc1e1e"/>
 <rect x="1212" y="350" width="8" height="26" fill="#e86060"/>
 <!-- tires -->
 <rect x="1205" y="373" width="60" height="72" rx="8" fill="#1e1e1e"/>
 <ellipse cx="1235" cy="376" rx="28" ry="5" fill="#d8d8d8"/>
 <path d="M1207,396 H1263 M1207,420 H1263" stroke="#3a3a3a" stroke-width="1.5"/>
 <ellipse cx="1192" cy="410" rx="22" ry="33" fill="#1a1a1a"/>
 <ellipse cx="1184" cy="410" rx="12" ry="25" fill="#eaeaea"/>
</g>
<circle cx="1153" cy="347" r="118" fill="none" stroke="#4b6a68" stroke-width="4.5"/>

<!-- LAUNDRY -->
<g clip-path="url(#cL)">
 <rect x="1190" y="645" width="250" height="245" fill="#ebe7de"/>
 <rect x="1280" y="645" width="34" height="70" fill="#f1ede4"/>
 <rect x="1313" y="645" width="100" height="70" fill="#f3f3f2"/>
 <path d="M1315,645 V714 M1373,645 V714 M1313,687 H1412" stroke="#1e1e1e" stroke-width="3"/>
 <ellipse cx="1345" cy="700" rx="12" ry="8" fill="#7a9a70" opacity="0.7"/>
 <ellipse cx="1395" cy="698" rx="14" ry="9" fill="#7a9a70" opacity="0.7"/>
 <rect x="1235" y="665" width="28" height="20" fill="#b59a7a"/>
 <rect x="1228" y="683" width="45" height="3" fill="#c9c2b5"/>
 <rect x="1265" y="697" width="42" height="12" fill="#5a8ac0"/>
 <rect x="1265" y="703" width="42" height="3" fill="#a0c4e4"/>
 <polygon points="1217,711 1430,733 1430,742 1217,718" fill="#c49a68"/>
 <rect x="1322" y="715" width="70" height="9" fill="#f6f6f6"/>
 <polygon points="1220,718 1430,741 1430,870 1220,820" fill="#f4f4f3"/>
 <rect x="1190" y="718" width="32" height="105" fill="#e7e3dc"/>
 <rect x="1193" y="775" width="26" height="8" fill="#c0a0a8"/>
 <rect x="1222" y="735" width="28" height="3" fill="#d8d8d8"/>
 <rect x="1222" y="768" width="28" height="3" fill="#d8d8d8"/>
 <rect x="1252" y="722" width="44" height="98" fill="#fbfbfb" stroke="#d6d6d6" stroke-width="1"/>
 <circle cx="1273" cy="766" r="17" fill="#dcdcdc"/>
 <circle cx="1273" cy="766" r="13" fill="#4a4a4c"/>
 <rect x="1280" y="800" width="10" height="14" fill="#c8c8c8"/>
 <rect x="1305" y="760" width="42" height="24" fill="#eef0f0"/>
 <rect x="1305" y="768" width="42" height="5" fill="#8fc6d0"/>
 <rect x="1348" y="768" width="16" height="24" fill="#88b8cc"/>
 <rect x="1305" y="793" width="40" height="16" fill="#e2c4cc"/>
 <rect x="1368" y="736" width="62" height="118" fill="#f7f7f7" stroke="#dadada" stroke-width="1"/>
 <circle cx="1397" cy="792" r="19" fill="#c9c9c9"/>
 <circle cx="1397" cy="792" r="14" fill="#5d5a58"/>
 <rect x="1393" y="748" width="6" height="6" fill="#333"/>
 <polygon points="1190,820 1300,820 1370,842 1440,870 1440,890 1190,890" fill="#d8d4d1"/>
</g>
<circle cx="1313" cy="767" r="118" fill="none" stroke="#4b6a68" stroke-width="4.5"/>

<!-- KITCHEN -->
<g clip-path="url(#cK)">
 <rect x="965" y="1052" width="250" height="245" fill="#ece6d9"/>
 <rect x="965" y="1160" width="250" height="105" fill="#e6dfd2"/>
 <path d="M1000,1200 Q1010,1240 1005,1262 M1040,1195 Q1050,1235 1045,1262 M1100,1195 Q1110,1235 1105,1262 M1150,1195 Q1160,1235 1155,1262" stroke="#d6cebf" stroke-width="6" fill="none" opacity="0.7"/>
 <!-- jars -->
 <rect x="982" y="1112" width="16" height="43" fill="#e6e4de"/>
 <rect x="982" y="1112" width="16" height="7" fill="#6aa838"/>
 <rect x="1000" y="1119" width="30" height="36" fill="#e9e8e4"/>
 <rect x="1002" y="1126" width="26" height="27" fill="#f6f6f4"/>
 <rect x="1001" y="1106" width="28" height="14" rx="3" fill="#5fa82a"/>
 <rect x="1032" y="1115" width="31" height="40" rx="7" fill="#cfcfcc"/>
 <rect x="1034" y="1135" width="27" height="18" fill="#c2c2be"/>
 <ellipse cx="1047" cy="1124" rx="13" ry="10" fill="#a9abb0"/>
 <rect x="1066" y="1115" width="31" height="40" rx="7" fill="#d6cdb6"/>
 <rect x="1068" y="1135" width="27" height="18" fill="#cbb994"/>
 <ellipse cx="1081" cy="1124" rx="13" ry="10" fill="#a9abb0"/>
 <rect x="1098" y="1135" width="21" height="20" fill="#dedcd6"/>
 <!-- bottles -->
 <path d="M1120,1155 L1120,1105 Q1120,1098 1124,1095 L1124,1087 L1130,1087 L1130,1095 Q1134,1098 1134,1105 L1134,1155 Z" fill="#283024"/>
 <path d="M1137,1155 L1137,1115 Q1137,1108 1140,1106 L1140,1098 L1145,1098 L1145,1106 Q1148,1108 1148,1115 L1148,1155 Z" fill="#8a8a2a"/>
 <path d="M1149,1155 L1149,1118 Q1149,1112 1152,1110 L1152,1103 L1157,1103 L1157,1110 Q1160,1112 1160,1118 L1160,1155 Z" fill="#d8d4cc"/>
 <rect x="1150" y="1135" width="9" height="20" fill="#2a2420"/>
 <path d="M1162,1155 L1162,1112 Q1162,1106 1166,1103 L1166,1098 L1171,1098 L1171,1103 Q1175,1106 1175,1112 L1175,1155 Z" fill="#262e22"/>
 <rect x="1176" y="1131" width="11" height="24" fill="#9c9c9a"/>
 <rect x="1188" y="1135" width="12" height="20" fill="#b0b0ae"/>
 <!-- shelf -->
 <rect x="965" y="1155" width="250" height="7" fill="#6d4b33"/>
 <rect x="1068" y="1162" width="4" height="18" fill="#222"/>
 <rect x="1188" y="1162" width="4" height="22" fill="#222"/>
 <rect x="1135" y="1161" width="16" height="5" fill="#c8b070"/>
 <rect x="965" y="1179" width="250" height="3" fill="#4a3020"/>
 <!-- utensils -->
 <g fill="#1a1a1a">
  <rect x="1025" y="1192" width="3.5" height="44"/><path d="M1020,1234 L1033,1234 L1034,1266 L1020,1266 Z"/>
  <rect x="1053" y="1192" width="3.5" height="38"/><ellipse cx="1055" cy="1247" rx="7" ry="15"/>
  <rect x="1091" y="1192" width="3.5" height="48"/><path d="M1086,1240 L1099,1240 L1098,1263 L1087,1263 Z"/>
  <rect x="1113" y="1192" width="3.5" height="52"/><ellipse cx="1115" cy="1254" rx="11" ry="9"/>
  <rect x="1137" y="1192" width="3.5" height="46"/><path d="M1133,1237 L1144,1237 L1144,1258 L1142,1258 L1142,1245 L1140,1245 L1140,1258 L1137.5,1258 L1137.5,1245 L1135.5,1245 L1135.5,1258 L1133,1258 Z"/>
  <rect x="1157" y="1192" width="4.5" height="68"/>
  <path d="M1166,1205 L1188,1197 L1186,1233 Z"/>
 </g>
 <g fill="#f0ece4"><circle cx="1026.5" cy="1197" r="1.5"/><circle cx="1054.5" cy="1197" r="1.5"/><circle cx="1092.5" cy="1197" r="1.5"/><circle cx="1114.5" cy="1197" r="1.5"/><circle cx="1138.5" cy="1197" r="1.5"/><circle cx="1159" cy="1197" r="1.5"/></g>
 <ellipse cx="1070" cy="1226" rx="10" ry="10" fill="#5a3a2a"/>
 <rect x="1069" y="1182" width="2.5" height="36" fill="#a08050"/>
 <path d="M998,1200 Q994,1193 1000,1192 Q1006,1195 1004,1205 Z M1010,1200 Q1006,1193 1012,1192 Q1018,1195 1016,1205 Z" fill="none" stroke="#b85050" stroke-width="2"/>
 <path d="M1004,1205 L1006,1235 M1010,1205 L1007,1235" stroke="#d0d0d0" stroke-width="2"/>
 <rect x="965" y="1262" width="250" height="35" fill="#f0eae0"/>
 <rect x="965" y="1270" width="250" height="2" fill="#dcd4c6"/>
</g>
<circle cx="1089" cy="1175" r="118" fill="none" stroke="#4b6a68" stroke-width="4.5"/>

<!-- OFFICE -->
<g clip-path="url(#cO)">
 <rect x="528" y="1168" width="250" height="250" fill="#d6d6d8"/>
 <rect x="528" y="1168" width="250" height="28" fill="#ececed"/>
 <polygon points="633,1196 778,1190 778,1345 633,1342" fill="#85888b"/>
 <g fill="#d8cfb6" opacity="0.9">
  <rect x="658" y="1225" width="10" height="16"/><rect x="670" y="1228" width="10" height="16"/>
  <rect x="658" y="1244" width="10" height="16"/><rect x="670" y="1247" width="10" height="16"/>
  <rect x="683" y="1238" width="10" height="16"/><rect x="695" y="1240" width="10" height="16"/>
  <rect x="683" y="1257" width="10" height="16"/><rect x="695" y="1259" width="10" height="16"/>
  <rect x="683" y="1276" width="10" height="16"/><rect x="695" y="1278" width="10" height="16"/>
  <rect x="658" y="1263" width="10" height="14"/><rect x="670" y="1266" width="10" height="14"/>
  <rect x="738" y="1262" width="16" height="34"/>
 </g>
 <rect x="760" y="1250" width="13" height="42" fill="#f4f4f4"/>
 <rect x="528" y="1196" width="105" height="150" fill="#cdcdcf"/>
 <rect x="538" y="1203" width="40" height="145" fill="#f5f5f5"/>
 <path d="M540,1203 V1348 M552,1203 V1348 M565,1203 V1348 M577,1203 V1348 M538,1225 H578 M538,1250 H578 M538,1274 H578 M538,1298 H578 M538,1322 H578" stroke="#2a2a2a" stroke-width="2.5"/>
 <rect x="593" y="1192" width="28" height="100" fill="#f5f5f5"/>
 <path d="M594,1192 V1292 M603,1192 V1292 M612,1192 V1292 M620,1192 V1292 M593,1212 H621 M593,1232 H621 M593,1252 H621 M593,1272 H621" stroke="#2a2a2a" stroke-width="2.2"/>
 <path d="M560,1227 L571,1227 L565.5,1217 Z M609,1244 L625,1244 L617,1231 Z M646,1253 L661,1253 L653.5,1243 Z" fill="#1e1e1e"/>
 <rect x="542" y="1275" width="46" height="27" fill="#3d3c36"/>
 <rect x="604" y="1281" width="34" height="23" fill="#3d3c36"/>
 <rect x="640" y="1284" width="32" height="20" fill="#47463f"/>
 <polygon points="595,1330 778,1330 778,1418 528,1418 528,1352" fill="#cdc1b7"/>
 <polygon points="528,1380 778,1360 778,1418 528,1418" fill="#c6b9af"/>
 <polygon points="538,1304 702,1302 708,1310 538,1313" fill="#e6d8c4"/>
 <rect x="538" y="1313" width="40" height="38" fill="#cfb08c" opacity="0.9"/>
 <rect x="580" y="1320" width="38" height="52" fill="#e0c6a2"/>
 <rect x="618" y="1318" width="16" height="54" fill="#d2b18a"/>
 <rect x="636" y="1315" width="30" height="38" fill="#e0c6a2"/>
 <rect x="666" y="1314" width="8" height="40" fill="#d2b18a"/>
 <rect x="675" y="1310" width="26" height="31" fill="#e0c6a2"/>
 <rect x="701" y="1310" width="6" height="32" fill="#d2b18a"/>
 <!-- chairs -->
 <g fill="#333335">
  <path d="M712,1290 L727,1290 L739,1330 L737,1358 L724,1356 Z"/>
  <path d="M727,1291 L740,1292 L752,1330 L750,1353 L738,1350 Z"/>
  <path d="M738,1292 L750,1293 L762,1330 L760,1348 L750,1346 Z"/>
 </g>
 <path d="M720,1318 Q715,1345 730,1357 L760,1357 M735,1360 L722,1382 M740,1362 L760,1375" stroke="#d8d8d8" stroke-width="2" fill="none"/>
</g>
<circle cx="652" cy="1292" r="118" fill="none" stroke="#4b6a68" stroke-width="4.5"/>

</g>
<g fill="#4b6a68">
 <rect x="1206" y="450" width="226" height="66" rx="33"/>
 <rect x="1287" y="919" width="212" height="66" rx="33"/>
 <rect x="1045" y="1293" width="225" height="67" rx="33"/>
 <rect x="654" y="1410" width="224" height="66" rx="33"/>
</g>
<g fill="#ffffff" font-size="39" font-weight="bold" text-anchor="middle">
 <text x="1320" y="494">Garage</text>
 <text x="1392" y="963">Laundry</text>
 <text x="1154" y="1338">Kitchen</text>
 <text x="767" y="1455">Office</text>
</g>

</svg>
</body></html>
